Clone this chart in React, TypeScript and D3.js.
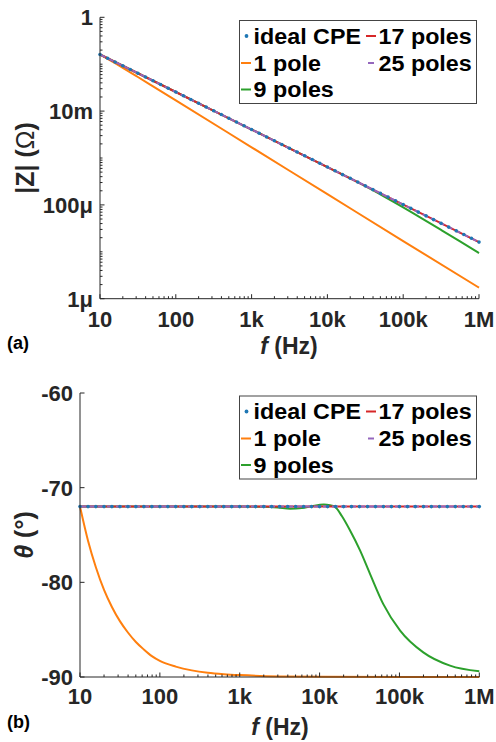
import React from "react";
import * as d3 from "d3";

// ideal CPE, sampled points (markers)
const cpeFreq = [
  10, 12.6, 15.8, 20, 25.1, 31.6, 39.8, 50.1, 63.1, 79.4,
  100, 126, 158, 200, 251, 316, 398, 501, 631, 794,
  1e3, 1.26e3, 1.58e3, 2e3, 2.51e3, 3.16e3, 3.98e3, 5.01e3, 6.31e3, 7.94e3,
  1e4, 1.26e4, 1.58e4, 2e4, 2.51e4, 3.16e4, 3.98e4, 5.01e4, 6.31e4, 7.94e4,
  1e5, 1.26e5, 1.58e5, 2e5, 2.51e5, 3.16e5, 3.98e5, 5.01e5, 6.31e5, 7.94e5,
  1e6,
];
const cpeMag = [
  0.161, 0.1339, 0.1114, 0.0926, 0.0771, 0.0641, 0.0533, 0.0443, 0.0369, 0.0307,
  0.02552, 0.02122, 0.01766, 0.01468, 0.01222, 0.01016, 0.00845, 0.00702, 0.00585, 0.00487,
  0.004044, 0.003363, 0.002798, 0.002326, 0.001937, 0.00161, 0.001339, 0.001113, 0.000927, 0.000771,
  6.41e-4, 5.33e-4, 4.43e-4, 3.69e-4, 3.07e-4, 2.55e-4, 2.12e-4, 1.76e-4, 1.47e-4, 1.22e-4,
  1.016e-4, 8.45e-5, 7.03e-5, 5.84e-5, 4.86e-5, 4.04e-5, 3.36e-5, 2.8e-5, 2.33e-5, 1.94e-5,
  1.61e-5,
];
const cpePhase = [
  -72, -72, -72, -72, -72, -72, -72, -72, -72, -72,
  -72, -72, -72, -72, -72, -72, -72, -72, -72, -72,
  -72, -72, -72, -72, -72, -72, -72, -72, -72, -72,
  -72, -72, -72, -72, -72, -72, -72, -72, -72, -72,
  -72, -72, -72, -72, -72, -72, -72, -72, -72, -72,
  -72,
];

// 1 pole
const p1MagFreq = [10, 12.6, 15.8, 20, 31.6, 50.1, 100, 1e3, 1e4, 1e5, 1e6];
const p1Mag = [0.161, 0.1301, 0.105, 0.0836, 0.0533, 0.03373, 0.01693, 1.693e-3, 1.693e-4, 1.693e-5, 1.72e-6];
const p1PhFreq = [10, 12.6, 15.8, 20, 25.1, 31.6, 39.8, 50.1, 63.1, 79.4, 100, 158, 251, 398, 631, 1e3, 3.16e3, 1e4, 1e5, 1e6];
const p1Phase = [-72, -75.6, -78.4, -80.8, -82.6, -84.1, -85.3, -86.3, -87.1, -87.8, -88.3, -88.9, -89.3, -89.55, -89.7, -89.8, -89.94, -89.98, -90, -90];

// 9 poles
const p9MagFreq = [10, 100, 1e3, 1e4, 1.55e4, 3.16e4, 5.62e4, 1e5, 1.78e5, 3.16e5, 5.62e5, 1e6];
const p9Mag = [0.161, 0.02552, 0.004044, 6.41e-4, 4.52e-4, 2.51e-4, 1.51e-4, 8.89e-5, 5.12e-5, 2.92e-5, 1.66e-5, 9.4e-6];
const p9PhFreq = [10, 100, 1e3, 2e3, 3e3, 4.3e3, 6e3, 8e3, 1.13e4, 1.35e4, 1.55e4, 1.9e4, 2.4e4, 3.2e4, 4.28e4, 6.28e4, 1.02e5, 1.99e5, 4.3e5, 1e6];
const p9Phase = [-72, -72, -72, -72.02, -72.1, -72.22, -72.15, -71.95, -71.78, -71.85, -72, -73, -74.5, -76.6, -79.1, -82.3, -85.1, -87.4, -88.8, -89.4];

// 17 poles and 25 poles
const p17Freq = [10, 100, 1e3, 1e4, 1e5, 1e6];
const p17Mag = [0.161, 0.02552, 0.004044, 6.41e-4, 1.016e-4, 1.61e-5];
const p17Phase = [-72, -72, -72, -72, -72, -72];
const p25Freq = [10, 100, 1e3, 1e4, 1e5, 1e6];
const p25Mag = [0.161, 0.02552, 0.004044, 6.41e-4, 1.016e-4, 1.61e-5];
const p25Phase = [-72, -72, -72, -72, -72, -72];

const xTickVals = [10, 100, 1e3, 1e4, 1e5, 1e6];
const xTickLabels = ["10", "100", "1k", "10k", "100k", "1M"];
const magTickVals = [1e-6, 1e-4, 1e-2, 1];
const magTickLabels = ["1\u03bc", "100\u03bc", "10m", "1"];
const phaseTickVals = [-90, -80, -70, -60];

const legendItems = [
  { name: "ideal CPE", color: "#1f77b4", kind: "dot" },
  { name: "1 pole", color: "#ff7f0e", kind: "line" },
  { name: "9 poles", color: "#2ca02c", kind: "line" },
  { name: "17 poles", color: "#d62728", kind: "line" },
  { name: "25 poles", color: "#9467bd", kind: "dash" },
];

const FONT = "'Liberation Sans', Arial, Helvetica, sans-serif";
const INK = "#262626";

const zip = (a: number[], b: number[]) => a.map((v, i) => [v, b[i]] as [number, number]);

function minorLogTicks(lo: number, hi: number) {
  const out: number[] = [];
  for (let e = lo; e < hi; e++) {
    for (let k = 1; k <= 9; k++) out.push(k * Math.pow(10, e));
  }
  out.push(Math.pow(10, hi));
  return out;
}

function Legend({ x, y }: { x: number; y: number }) {
  const w = 237;
  const h = 83;
  const rows = [23.5, 50.5, 77];
  return (
    <g transform={`translate(${x},${y})`}>
      <rect x={0.5} y={0.5} width={w} height={h} fill="white" stroke="#444" strokeWidth={1} />
      {legendItems.map((it, i) => {
        const col = i < 3 ? 0 : 1;
        const row = i < 3 ? i : i - 3;
        const lx = col === 0 ? 2 : 127;
        const ty = rows[row];
        const cy = ty - 7.5;
        return (
          <g key={it.name}>
            {it.kind === "dot" && <circle cx={lx + 5.5} cy={cy} r={1.9} fill={it.color} />}
            {it.kind === "line" && (
              <line x1={lx} x2={lx + 10} y1={cy} y2={cy} stroke={it.color} strokeWidth={2} />
            )}
            {it.kind === "dash" && (
              <line x1={lx + 2} x2={lx + 8} y1={cy} y2={cy} stroke={it.color} strokeWidth={2} />
            )}
            <text
              transform={`translate(${lx + 12.5},${ty}) scale(1.06,1)`}
              fontFamily={FONT}
              fontWeight="bold"
              fontSize={22}
              fill="black"
            >
              {it.name}
            </text>
          </g>
        );
      })}
    </g>
  );
}

const App: React.FC = () => {
  // panel (a)
  const xA = d3.scaleLog().domain([10, 1e6]).range([100, 479]);
  const yA = d3.scaleLog().domain([1e-6, 1]).range([298.7, 17.3]);
  // panel (b)
  const xB = d3.scaleLog().domain([10, 1e6]).range([80, 479.3]);
  const yB = d3.scaleLinear().domain([-90, -60]).range([677, 393]);

  const lineA = d3
    .line<[number, number]>()
    .x((d) => xA(d[0]))
    .y((d) => yA(d[1]))
    .curve(d3.curveMonotoneX);
  const lineB = d3
    .line<[number, number]>()
    .x((d) => xB(d[0]))
    .y((d) => yB(d[1]))
    .curve(d3.curveMonotoneX);

  const xMinor = minorLogTicks(1, 6);
  const yMinor = minorLogTicks(-6, 0);

  const tickText = {
    fontFamily: FONT,
    fontWeight: "bold" as const,
    fontSize: 22,
    fill: INK,
  };

  return (
    <svg
      width={496}
      height={742}
      style={{ position: "absolute", left: 0, top: 0, background: "white" }}
    >
      <rect width={496} height={742} fill="white" />

      {/* ---------- panel (a) ---------- */}
      <g>
        <path d={lineA(zip(p1MagFreq, p1Mag)) || ""} fill="none" stroke="#ff7f0e" strokeWidth={2} />
        <path d={lineA(zip(p9MagFreq, p9Mag)) || ""} fill="none" stroke="#2ca02c" strokeWidth={2} />
        <path d={lineA(zip(p17Freq, p17Mag)) || ""} fill="none" stroke="#d62728" strokeWidth={2} />
        <path
          d={lineA(zip(p25Freq, p25Mag)) || ""}
          fill="none"
          stroke="#9467bd"
          strokeWidth={2}
          strokeDasharray="6,3"
        />
        {cpeFreq.map((f, i) => (
          <circle key={i} cx={xA(f)} cy={yA(cpeMag[i])} r={1.8} fill="#1f77b4" />
        ))}

        {/* axes */}
        <line x1={xA(10)} x2={xA(1e6)} y1={298.7} y2={298.7} stroke={INK} strokeWidth={1} />
        <line x1={100} x2={100} y1={yA(1)} y2={yA(1e-6)} stroke={INK} strokeWidth={1} />
        {xMinor.map((t, i) => (
          <line key={i} x1={xA(t)} x2={xA(t)} y1={298.7} y2={298.7 - (xTickVals.includes(t) ? 4.5 : 2.5)} stroke={INK} />
        ))}
        {yMinor.map((t, i) => (
          <line
            key={i}
            x1={100}
            x2={100 + (magTickVals.some((m) => Math.abs(m - t) / m < 1e-6) ? 4.5 : 2.5)}
            y1={yA(t)}
            y2={yA(t)}
            stroke={INK}
          />
        ))}
        {xTickVals.map((t, i) => (
          <text key={i} x={xA(t)} y={326.5} textAnchor="middle" {...tickText}>
            {xTickLabels[i]}
          </text>
        ))}
        {magTickVals.map((t, i) => (
          <text key={i} x={93} y={yA(t)} dy="0.36em" textAnchor="end" {...tickText}>
            {magTickLabels[i]}
          </text>
        ))}
        <text x={289} y={354} textAnchor="middle" fontFamily={FONT} fontWeight="bold" fontSize={23} fill={INK}>
          <tspan fontStyle="italic">f</tspan> (Hz)
        </text>
        <text
          transform={`translate(34,158) rotate(-90)`}
          textAnchor="middle"
          fontFamily={FONT}
          fontWeight="bold"
          fontSize={25}
          fill={INK}
        >
          |Z| (<tspan fontWeight="normal">{"\u03a9"}</tspan>)
        </text>
        <Legend x={239} y={20} />
        <text x={7} y={349} fontFamily={FONT} fontWeight="bold" fontSize={18} fill="black">
          (a)
        </text>
      </g>

      {/* ---------- panel (b) ---------- */}
      <g>
        <path d={lineB(zip(p1PhFreq, p1Phase)) || ""} fill="none" stroke="#ff7f0e" strokeWidth={2} />
        <path d={lineB(zip(p9PhFreq, p9Phase)) || ""} fill="none" stroke="#2ca02c" strokeWidth={2} />
        <path d={lineB(zip(p17Freq, p17Phase)) || ""} fill="none" stroke="#d62728" strokeWidth={2} />
        <path
          d={lineB(zip(p25Freq, p25Phase)) || ""}
          fill="none"
          stroke="#9467bd"
          strokeWidth={2}
          strokeDasharray="6,3"
        />
        {cpeFreq.map((f, i) => (
          <circle key={i} cx={xB(f)} cy={yB(cpePhase[i])} r={1.8} fill="#1f77b4" />
        ))}

        <line x1={xB(10)} x2={xB(1e6)} y1={677} y2={677} stroke={INK} strokeWidth={1} />
        <line x1={80} x2={80} y1={yB(-60)} y2={yB(-90)} stroke={INK} strokeWidth={1} />
        {xMinor.map((t, i) => (
          <line key={i} x1={xB(t)} x2={xB(t)} y1={677} y2={677 - (xTickVals.includes(t) ? 4.5 : 2.5)} stroke={INK} />
        ))}
        {phaseTickVals.map((t, i) => (
          <line key={i} x1={80} x2={84.5} y1={yB(t)} y2={yB(t)} stroke={INK} />
        ))}
        {xTickVals.map((t, i) => (
          <text key={i} x={xB(t)} y={703.5} textAnchor="middle" {...tickText}>
            {xTickLabels[i]}
          </text>
        ))}
        {phaseTickVals.map((t, i) => (
          <text key={i} x={73} y={yB(t)} dy="0.36em" textAnchor="end" {...tickText}>
            {String(t)}
          </text>
        ))}
        <text x={280} y={735} textAnchor="middle" fontFamily={FONT} fontWeight="bold" fontSize={23} fill={INK}>
          <tspan fontStyle="italic">f</tspan> (Hz)
        </text>
        <text
          transform={`translate(33,535) rotate(-90)`}
          textAnchor="middle"
          fontFamily={FONT}
          fontWeight="bold"
          fontSize={25}
          fill={INK}
        >
          <tspan fontStyle="italic">{"\u03b8"}</tspan> ({"\u00b0"})
        </text>
        <Legend x={239} y={395.5} />
        <text x={7} y={728} fontFamily={FONT} fontWeight="bold" fontSize={18} fill="black">
          (b)
        </text>
      </g>
    </svg>
  );
};

export default App;
